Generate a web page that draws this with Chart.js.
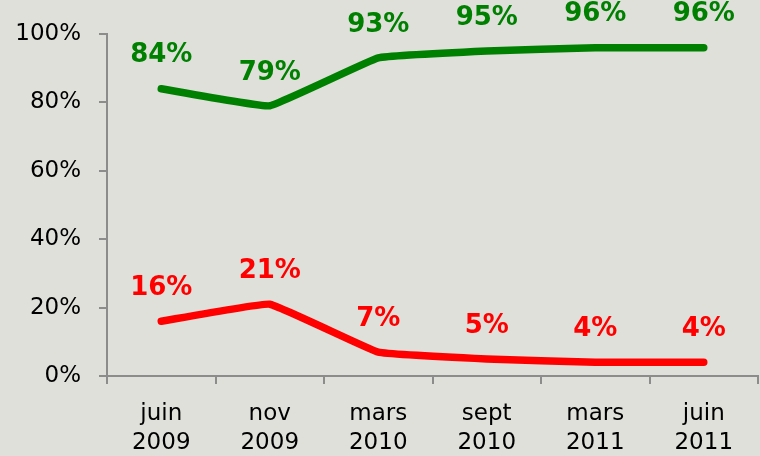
<!DOCTYPE html>
<html>
<head>
<meta charset="utf-8">
<script src="https://cdn.jsdelivr.net/npm/chart.js@4/dist/chart.umd.min.js"></script>
<style>
  html, body { margin: 0; padding: 0; background: #dfe0da; }
  #wrap { width: 760px; height: 456px; }
</style>
</head>
<body>
<div id="wrap"><canvas id="graph"></canvas></div>
<script>
const periodes = [['juin', '2009'], ['nov', '2009'], ['mars', '2010'], ['sept', '2010'], ['mars', '2011'], ['juin', '2011']];
const serieVert = [84, 79, 93, 95, 96, 96];
const serieRouge = [16, 21, 7, 5, 4, 4];
const ticksY = [0, 20, 40, 60, 80, 100];

// etiquettes de valeur au-dessus des points
const etiquettes = {
  id: 'etiquettes',
  afterDatasetsDraw(chart) {
    const ctx = chart.ctx;
    ctx.save();
    ctx.font = 'bold 26px "DejaVu Sans"';
    ctx.textAlign = 'center';
    ctx.textBaseline = 'middle';
    chart.data.datasets.forEach((ds, i) => {
      const meta = chart.getDatasetMeta(i);
      ctx.fillStyle = ds.borderColor;
      meta.data.forEach((pt, j) => {
        ctx.fillText(ds.data[j] + '%', pt.x, pt.y - 33);
      });
    });
    ctx.restore();
  }
};

const gris = '#8c8c8c';

new Chart(document.getElementById('graph').getContext('2d'), {
  type: 'line',
  data: {
    labels: periodes,
    datasets: [{
      data: serieVert,
      borderColor: '#008000',
      borderWidth: 7.5,
      borderCapStyle: 'round',
      borderJoinStyle: 'round',
      pointRadius: 0,
      tension: 0.08
    }, {
      data: serieRouge,
      borderColor: '#ff0000',
      borderWidth: 7.5,
      borderCapStyle: 'round',
      borderJoinStyle: 'round',
      pointRadius: 0,
      tension: 0.08
    }]
  },
  options: {
    responsive: true,
    maintainAspectRatio: false,
    animation: false,
    layout: { padding: { top: 34, right: 2, left: 0, bottom: 0 } },
    plugins: {
      legend: { display: false },
      tooltip: { enabled: false }
    },
    scales: {
      x: {
        offset: true,
        grid: { offset: true, drawOnChartArea: false, color: gris, tickLength: 8, lineWidth: 2 },
        border: { color: gris, width: 2 },
        ticks: {
          color: '#000',
          font: { family: 'DejaVu Sans', size: 23, lineHeight: 1.25 },
          padding: 16,
          maxRotation: 0
        },
        afterFit(s) { s.height = 80; }
      },
      y: {
        min: 0,
        max: 100,
        afterBuildTicks(s) { s.ticks = ticksY.map(v => ({ value: v })); },
        grid: { drawOnChartArea: false, color: gris, tickLength: 8, lineWidth: 2 },
        border: { color: gris, width: 2 },
        ticks: {
          color: '#000',
          font: { family: 'DejaVu Sans', size: 23 },
          padding: 18,
          callback: v => v + '%'
        },
        afterFit(s) { s.width = 107; }
      }
    }
  },
  plugins: [etiquettes]
});
</script>
</body>
</html>
